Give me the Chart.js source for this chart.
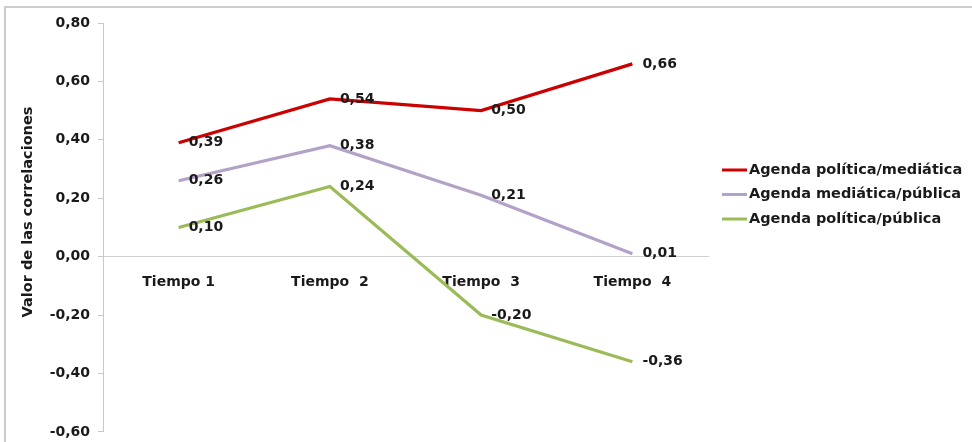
<!DOCTYPE html>
<html>
<head>
<meta charset="utf-8">
<script src="https://cdn.jsdelivr.net/npm/chart.js@4"></script>
<style>
  html, body { margin: 0; padding: 0; background: #fff; }
  #wrap { position: relative; width: 972px; height: 442px; }
</style>
</head>
<body>
<div id="wrap"><canvas id="grafico"></canvas></div>
<script>
// categorías y series
const tiempos = ["Tiempo 1", "Tiempo  2", "Tiempo  3", "Tiempo  4"];
const politicaMediatica = [0.39, 0.54, 0.50, 0.66];
const mediaticaPublica = [0.26, 0.38, 0.21, 0.01];
const politicaPublica = [0.10, 0.24, -0.20, -0.36];
const nombresSeries = ["Agenda política/mediática", "Agenda mediática/pública", "Agenda política/pública"];
const colores = ["#cc0000", "#b3a2c7", "#9bbb59"];
const ejeMin = -0.6, ejeMax = 0.8, ejePaso = 0.2;
const tituloY = "Valor de las correlaciones";

const fuente = "'DejaVu Sans', Verdana, sans-serif";

function coma(v) {
  if (Math.abs(v) < 1e-9) v = 0;
  return v.toFixed(2).replace(".", ",");
}

// etiquetas de valor a la derecha de cada punto
const etiquetasValor = {
  id: "etiquetasValor",
  afterDatasetsDraw(chart) {
    const ctx = chart.ctx;
    ctx.save();
    ctx.font = "bold 14px " + fuente;
    ctx.fillStyle = "#1a1a1a";
    ctx.textAlign = "left";
    ctx.textBaseline = "middle";
    chart.data.datasets.forEach((ds, i) => {
      chart.getDatasetMeta(i).data.forEach((pt, j) => {
        ctx.fillText(coma(ds.data[j]), pt.x + 10, pt.y);
      });
    });
    ctx.restore();
  }
};

// leyenda, título del eje vertical y marco del gráfico
const leyendaYMarco = {
  id: "leyendaYMarco",
  afterDraw(chart) {
    const ctx = chart.ctx;
    ctx.save();
    ctx.strokeStyle = "#cccccc";
    ctx.lineWidth = 2;
    ctx.beginPath();
    ctx.moveTo(5, 442);
    ctx.lineTo(5, 7);
    ctx.lineTo(972, 7);
    ctx.stroke();

    ctx.save();
    ctx.translate(28, 212);
    ctx.rotate(-Math.PI / 2);
    ctx.font = "bold 14.5px " + fuente;
    ctx.fillStyle = "#1a1a1a";
    ctx.textAlign = "center";
    ctx.textBaseline = "middle";
    ctx.fillText(tituloY, 0, 0);
    ctx.restore();

    ctx.font = "bold 14.5px " + fuente;
    ctx.textAlign = "left";
    ctx.textBaseline = "middle";
    chart.data.datasets.forEach((ds, i) => {
      const y = 170 + i * 24.5;
      ctx.strokeStyle = ds.borderColor;
      ctx.lineWidth = 3;
      ctx.beginPath();
      ctx.moveTo(722, y);
      ctx.lineTo(747, y);
      ctx.stroke();
      ctx.fillStyle = "#1a1a1a";
      ctx.fillText(ds.label, 749, y);
    });
    ctx.restore();
  }
};

const serie = (nombre, datos, color) => ({
  label: nombre,
  data: datos,
  borderColor: color,
  backgroundColor: color,
  borderWidth: 3.2,
  pointRadius: 0,
  tension: 0,
  fill: false
});

new Chart(document.getElementById("grafico"), {
  type: "line",
  data: {
    labels: tiempos,
    datasets: [
      serie(nombresSeries[0], politicaMediatica, colores[0]),
      serie(nombresSeries[1], mediaticaPublica, colores[1]),
      serie(nombresSeries[2], politicaPublica, colores[2])
    ]
  },
  options: {
    responsive: true,
    maintainAspectRatio: false,
    animation: false,
    layout: { padding: { left: 14, right: 264, top: 23, bottom: 10 } },
    plugins: {
      legend: { display: false },
      tooltip: { enabled: false }
    },
    scales: {
      x: {
        type: "category",
        position: { y: 0 },
        offset: true,
        grid: { display: false, drawTicks: false },
        border: { display: true, color: "#d0d0d0", width: 1 },
        ticks: {
          color: "#1a1a1a",
          font: { family: fuente, size: 14, weight: "bold" },
          padding: 17,
          maxRotation: 0,
          autoSkip: false
        }
      },
      y: {
        min: ejeMin,
        max: ejeMax,
        afterFit(scale) { scale.width = 89; },
        grid: { display: true, drawOnChartArea: false, drawTicks: true, tickLength: 5, color: "#c8c8c8" },
        border: { display: true, color: "#c8c8c8", width: 1 },
        ticks: {
          stepSize: ejePaso,
          color: "#1a1a1a",
          font: { family: fuente, size: 14, weight: "bold", lineHeight: 0.3 },
          padding: 8,
          callback: (v) => coma(v)
        }
      }
    }
  },
  plugins: [etiquetasValor, leyendaYMarco]
});
</script>
</body>
</html>
